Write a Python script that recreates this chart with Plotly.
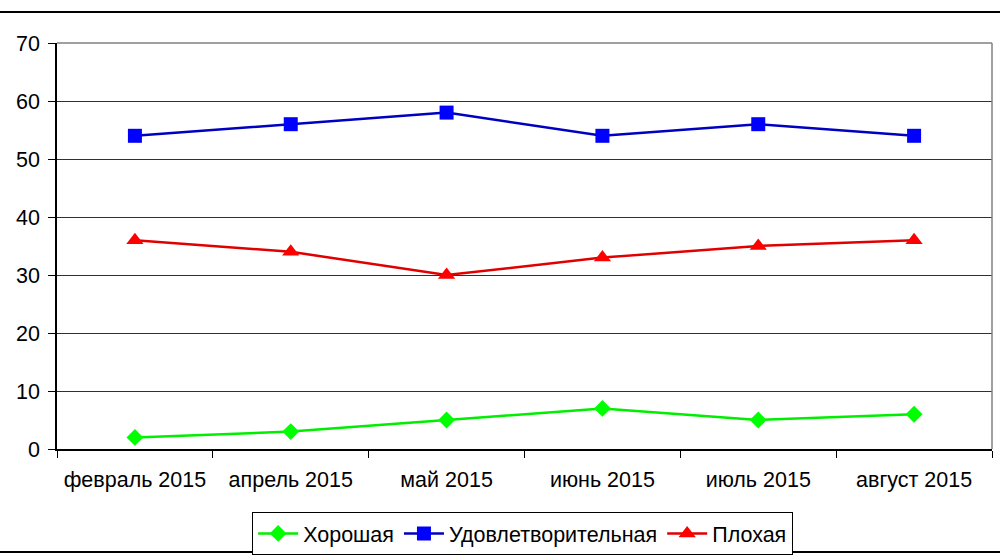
import plotly.graph_objects as go

months = ["февраль 2015", "апрель 2015", "май 2015", "июнь 2015", "июль 2015", "август 2015"]
good = [2, 3, 5, 7, 5, 6]
fair = [54, 56, 58, 54, 56, 54]
bad = [36, 34, 30, 33, 35, 36]

series = [
    ("Хорошая", good, "#00ee00", "#00ff00", "diamond", 13),
    ("Удовлетворительная", fair, "#0000c0", "#0000ff", "square", 14),
    ("Плохая", bad, "#e00000", "#ff0000", "triangle-up", 15),
]

fig = go.Figure()
for name, vals, lc, mc, sym, sz in series:
    fig.add_trace(
        go.Scatter(
            x=months,
            y=vals,
            name=name,
            mode="lines+markers",
            line=dict(color=lc, width=2.5),
            marker=dict(color=mc, symbol=sym, size=sz),
        )
    )

fig.update_layout(
    width=1000,
    height=560,
    plot_bgcolor="white",
    paper_bgcolor="white",
    font=dict(family="Liberation Sans, Arial", size=21.5, color="black"),
    margin=dict(l=57, r=8, t=43, b=111, autoexpand=False),
    showlegend=True,
    legend=dict(
        orientation="h",
        x=0.498,
        xanchor="center",
        y=-0.155,
        yanchor="top",
        bordercolor="black",
        borderwidth=1,
        font=dict(size=21.5),
        itemwidth=40,
        tracegroupgap=0,
    ),
    shapes=[
        dict(type="line", xref="paper", yref="paper", x0=-0.1, x1=1.1,
             y0=1 + 31 / 406, y1=1 + 31 / 406, line=dict(color="black", width=2)),
        dict(type="line", xref="paper", yref="paper", x0=-0.1, x1=1.1,
             y0=-103 / 406, y1=-103 / 406, line=dict(color="black", width=2)),
    ],
)

fig.update_xaxes(
    type="category",
    showline=True,
    linecolor="black",
    linewidth=1.5,
    mirror=False,
    ticks="outside",
    tickson="boundaries",
    ticklen=7,
    tickcolor="black",
    ticklabelstandoff=10,
    showgrid=False,
    range=[-0.5, 5.5],
)
fig.update_yaxes(
    range=[0, 70],
    dtick=10,
    showline=True,
    linecolor="black",
    linewidth=1.5,
    ticks="outside",
    ticklen=7,
    tickcolor="black",
    ticklabelstandoff=4,
    showgrid=True,
    gridcolor="#303030",
    gridwidth=1,
    zeroline=False,
)
# grey border on top and right of the plot area
fig.add_shape(type="line", xref="paper", yref="paper", x0=0, x1=1, y0=1, y1=1,
              line=dict(color="#808080", width=1.5))
fig.add_shape(type="line", xref="paper", yref="paper", x0=1, x1=1, y0=0, y1=1,
              line=dict(color="#808080", width=1.5))

# drop the default page margin so the figure sits at the window corner
fig.write_html(
    "out.html",
    config={"displayModeBar": False},
    post_script="document.body.style.margin='0';",
)
